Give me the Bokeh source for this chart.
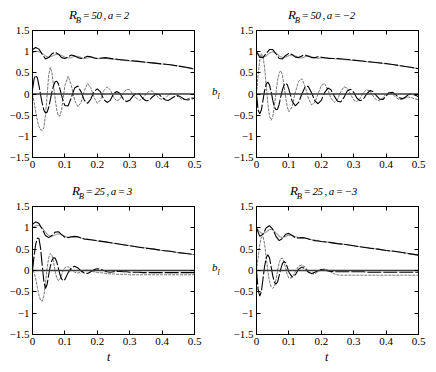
from bokeh.plotting import figure
from bokeh.layouts import column, row
from bokeh.models import Range1d, FixedTicker, LinearAxis, CustomJSTickFormatter, Div
from bokeh.embed import file_html
from bokeh.resources import INLINE

# ---------------- data ----------------
X_TICKS = [0, 0.1, 0.2, 0.3, 0.4, 0.5]
Y_TICKS = [-1.5, -1, -0.5, 0, 0.5, 1, 1.5]

R_B = ["50", "50", "25", "25"]
A_VAL = ["2", "\u22122", "3", "\u22123"]

ZERO_T = [0, 0.5]
ZERO_Y = [0, 0]

# time grid for the upper (b0-like) curves
T_UP = [0, 0.01, 0.02, 0.03, 0.04, 0.05, 0.06, 0.07, 0.08, 0.09, 0.1,
        0.11, 0.12, 0.13, 0.14, 0.15, 0.16, 0.17, 0.18, 0.19, 0.2,
        0.225, 0.25, 0.275, 0.3, 0.325, 0.35, 0.375, 0.4, 0.425, 0.45, 0.475, 0.5]

# time grid for the lower (oscillating) curves
T_LOW = [0, 0.005, 0.01, 0.015, 0.02, 0.025, 0.03, 0.035, 0.04, 0.045, 0.05,
         0.055, 0.06, 0.065, 0.07, 0.075, 0.08, 0.085, 0.09, 0.095, 0.1,
         0.11, 0.12, 0.13, 0.14, 0.15, 0.16, 0.17, 0.18, 0.19, 0.2,
         0.21, 0.22, 0.23, 0.24, 0.25, 0.26, 0.27, 0.28, 0.29, 0.3,
         0.31, 0.32, 0.33, 0.34, 0.35, 0.36, 0.37, 0.38, 0.39, 0.4,
         0.41, 0.42, 0.43, 0.44, 0.45, 0.46, 0.47, 0.48, 0.49, 0.5]

# panel 1: R_B = 50, a = 2
UB1 = [1.05, 1.10, 1.06, 0.94, 0.83, 0.86, 0.95, 0.99, 0.94, 0.86, 0.84, 0.88, 0.92, 0.90, 0.86, 0.84, 0.86, 0.89, 0.88, 0.85, 0.84,
       0.86, 0.83, 0.81, 0.79, 0.77, 0.75, 0.73, 0.71, 0.69, 0.66, 0.63, 0.59]
UG1 = [0.97, 1.01, 1.00, 0.96, 0.90, 0.87, 0.89, 0.93, 0.94, 0.91, 0.87, 0.85, 0.86, 0.89, 0.89, 0.86, 0.84, 0.85, 0.87, 0.86, 0.84,
       0.84, 0.82, 0.80, 0.78, 0.78, 0.75, 0.74, 0.71, 0.69, 0.66, 0.62, 0.59]
LB1 = [0.10, 0.36, 0.44, 0.38, 0.20, -0.02, -0.22, -0.38, -0.45, -0.43, -0.32, -0.14, 0.05, 0.20, 0.29, 0.30, 0.24, 0.11, -0.04, -0.18, -0.27,
       -0.28, -0.08, 0.14, 0.19, 0.05, -0.15, -0.22, -0.12, 0.06, 0.12,
       0.05, -0.13, -0.20, -0.15, 0.00, 0.06, 0.01, -0.12, -0.18, -0.15,
       -0.05, 0.02, 0.00, -0.10, -0.16, -0.15, -0.07, -0.01, -0.01, -0.08,
       -0.14, -0.15, -0.10, -0.05, -0.04, -0.08, -0.13, -0.14, -0.12, -0.10]
LG1 = [0.00, -0.20, -0.42, -0.62, -0.77, -0.85, -0.86, -0.80, -0.50, -0.05, 0.45, 0.63, 0.50, 0.20, -0.12, -0.38, -0.52, -0.52, -0.36, -0.08, 0.20,
       0.42, 0.20, -0.15, -0.30, -0.20, 0.08, 0.25, 0.15, -0.08, -0.22,
       -0.14, 0.08, 0.17, 0.10, -0.07, -0.17, -0.12, 0.02, 0.11, 0.10,
       0.00, -0.10, -0.15, -0.11, -0.01, 0.07, 0.07, -0.01, -0.10, -0.13,
       -0.10, -0.02, 0.02, 0.00, -0.07, -0.12, -0.13, -0.11, -0.09, -0.08]

# panel 2: R_B = 50, a = -2
UB2 = [1.00, 0.87, 0.86, 0.96, 1.05, 1.05, 0.95, 0.84, 0.83, 0.91, 0.96, 0.93, 0.87, 0.86, 0.90, 0.92, 0.89, 0.86, 0.86, 0.88, 0.87,
       0.84, 0.84, 0.82, 0.80, 0.78, 0.76, 0.74, 0.72, 0.69, 0.66, 0.63, 0.60]
UG2 = [1.00, 0.92, 0.87, 0.90, 0.97, 1.00, 0.97, 0.90, 0.86, 0.87, 0.91, 0.93, 0.90, 0.86, 0.85, 0.88, 0.90, 0.88, 0.85, 0.84, 0.86,
       0.85, 0.82, 0.81, 0.79, 0.78, 0.75, 0.74, 0.71, 0.69, 0.66, 0.63, 0.60]
LB2 = [0.00, -0.38, -0.47, -0.38, -0.15, 0.08, 0.24, 0.28, 0.22, 0.06, -0.14, -0.30, -0.37, -0.36, -0.24, -0.06, 0.10, 0.21, 0.25, 0.22, 0.11,
       -0.17, -0.28, -0.20, 0.00, 0.17, 0.18, 0.03, -0.16, -0.23, -0.15,
       0.03, 0.14, 0.10, -0.05, -0.17, -0.19, -0.08, 0.07, 0.11, 0.04,
       -0.10, -0.16, -0.12, 0.00, 0.08, 0.06, -0.04, -0.12, -0.13, -0.05,
       0.03, 0.04, -0.02, -0.09, -0.11, -0.07, -0.01, 0.00, -0.03, -0.06]
LG2 = [0.00, 0.45, 0.80, 0.95, 0.90, 0.62, 0.20, -0.22, -0.52, -0.62, -0.55, -0.30, 0.02, 0.32, 0.50, 0.55, 0.45, 0.20, -0.08, -0.30, -0.42,
       -0.30, 0.05, 0.30, 0.36, 0.18, -0.10, -0.26, -0.20, 0.00, 0.20,
       0.25, 0.10, -0.10, -0.20, -0.13, 0.05, 0.17, 0.14, 0.00, -0.14,
       -0.18, -0.10, 0.03, 0.10, 0.07, -0.05, -0.14, -0.16, -0.09, 0.00,
       0.04, 0.00, -0.08, -0.13, -0.13, -0.09, -0.07, -0.09, -0.12, -0.13]

# panel 3: R_B = 25, a = 3
UB3 = [1.08, 1.14, 1.10, 0.97, 0.82, 0.77, 0.82, 0.90, 0.91, 0.84, 0.78, 0.77, 0.79, 0.80, 0.79, 0.76, 0.74, 0.73, 0.72, 0.71, 0.70,
       0.67, 0.64, 0.61, 0.58, 0.55, 0.52, 0.50, 0.47, 0.45, 0.42, 0.40, 0.37]
UG3 = [1.00, 1.05, 1.06, 1.00, 0.90, 0.82, 0.80, 0.84, 0.86, 0.84, 0.80, 0.78, 0.78, 0.79, 0.78, 0.76, 0.74, 0.73, 0.72, 0.71, 0.69,
       0.67, 0.64, 0.61, 0.58, 0.55, 0.53, 0.50, 0.47, 0.45, 0.42, 0.40, 0.37]
LB3 = [0.00, 0.35, 0.62, 0.76, 0.75, 0.52, 0.12, -0.25, -0.42, -0.33, -0.10, 0.10, 0.24, 0.30, 0.29, 0.20, 0.05, -0.10, -0.20, -0.24, -0.21,
       -0.05, 0.06, 0.10, 0.06, -0.01, -0.06, -0.07, -0.03, 0.02, 0.04,
       0.03, 0.00, -0.03, -0.04, -0.03, -0.02, -0.02, -0.03, -0.03, -0.04,
       -0.04, -0.04, -0.04, -0.05, -0.05, -0.05, -0.05, -0.05, -0.05, -0.05,
       -0.05, -0.05, -0.05, -0.05, -0.05, -0.05, -0.05, -0.05, -0.05, -0.05]
LG3 = [0.00, -0.05, -0.20, -0.40, -0.58, -0.70, -0.72, -0.60, -0.30, 0.05, 0.30, 0.40, 0.36, 0.20, -0.02, -0.18, -0.24, -0.20, -0.10, 0.01, 0.07,
       0.09, 0.02, -0.04, -0.06, -0.04, 0.00, 0.01, -0.01, -0.03, -0.05,
       -0.05, -0.06, -0.07, -0.08, -0.08, -0.09, -0.09, -0.09, -0.09, -0.10,
       -0.10, -0.10, -0.10, -0.10, -0.10, -0.10, -0.10, -0.10, -0.10, -0.10,
       -0.10, -0.10, -0.10, -0.10, -0.10, -0.10, -0.10, -0.10, -0.10, -0.10]

# panel 4: R_B = 25, a = -3
UB4 = [1.00, 0.80, 0.85, 1.00, 1.05, 0.97, 0.80, 0.70, 0.75, 0.85, 0.87, 0.82, 0.77, 0.76, 0.77, 0.76, 0.74, 0.72, 0.70, 0.69, 0.68,
       0.66, 0.63, 0.61, 0.58, 0.55, 0.52, 0.50, 0.47, 0.45, 0.42, 0.39, 0.36]
UG4 = [1.00, 0.90, 0.86, 0.90, 0.96, 0.96, 0.88, 0.80, 0.77, 0.80, 0.83, 0.82, 0.79, 0.77, 0.76, 0.76, 0.74, 0.72, 0.71, 0.70, 0.68,
       0.66, 0.63, 0.61, 0.58, 0.55, 0.53, 0.50, 0.47, 0.45, 0.42, 0.39, 0.36]
LB4 = [0.00, -0.45, -0.60, -0.50, -0.20, 0.10, 0.30, 0.37, 0.30, 0.10, -0.12, -0.27, -0.32, -0.27, -0.12, 0.04, 0.16, 0.21, 0.18, 0.08, -0.04,
       -0.15, -0.10, 0.03, 0.08, 0.04, -0.04, -0.07, -0.04, 0.00, 0.02,
       0.01, -0.01, -0.02, -0.03, -0.03, -0.03, -0.03, -0.03, -0.03, -0.03,
       -0.03, -0.03, -0.03, -0.04, -0.04, -0.04, -0.04, -0.04, -0.04, -0.04,
       -0.04, -0.04, -0.04, -0.04, -0.04, -0.04, -0.04, -0.04, -0.04, -0.04]
LG4 = [0.00, 0.30, 0.60, 0.78, 0.80, 0.62, 0.30, -0.02, -0.25, -0.38, -0.42, -0.38, -0.22, 0.00, 0.18, 0.28, 0.29, 0.20, 0.05, -0.10, -0.18,
       -0.17, -0.02, 0.10, 0.13, 0.08, -0.02, -0.08, -0.08, -0.03, 0.02,
       0.04, 0.01, -0.04, -0.08, -0.10, -0.11, -0.11, -0.11, -0.11, -0.11,
       -0.11, -0.11, -0.11, -0.11, -0.11, -0.11, -0.11, -0.11, -0.11, -0.11,
       -0.11, -0.11, -0.11, -0.11, -0.11, -0.11, -0.11, -0.11, -0.11, -0.11]

PANELS = [
    (UB1, UG1, LB1, LG1),
    (UB2, UG2, LB2, LG2),
    (UB3, UG3, LB3, LG3),
    (UB4, UG4, LB4, LG4),
]

FONT_LIST = "'Liberation Serif', 'Times New Roman', Tinos, Times, 'Nimbus Roman', 'DejaVu Serif', serif"
MINUS_FMT = "return String(tick).replace('-', '\u2212');"
TXT = ("position:relative;white-space:nowrap;font-family:" + FONT_LIST + ";"
       "font-style:italic;color:black;margin:0;padding:0;")


def style_axis(ax, ticks, show_labels):
    ax.ticker = FixedTicker(ticks=ticks)
    ax.major_tick_in = 4
    ax.major_tick_out = 0
    ax.minor_tick_line_color = None
    ax.axis_line_color = "black"
    ax.axis_line_width = 1
    ax.major_tick_line_color = "black"
    if show_labels:
        ax.formatter = CustomJSTickFormatter(code=MINUS_FMT)
        ax.major_label_text_font = FONT_LIST
        ax.major_label_text_font_size = "11px"
        ax.major_label_text_color = "black"
        ax.major_label_standoff = 3
    else:
        ax.formatter = CustomJSTickFormatter(code="return '';")
        ax.major_label_text_font_size = "1px"
        ax.major_label_standoff = 0


def make_panel(i, width, height, bl, br, bt, bb):
    p = figure(width=width, height=height,
               x_range=Range1d(0, 0.5), y_range=Range1d(-1.5, 1.5),
               output_backend="svg", toolbar_location=None,
               x_axis_type=None, y_axis_type=None,
               min_border_left=bl, min_border_right=br,
               min_border_top=bt, min_border_bottom=bb)
    p.outline_line_color = "black"
    p.outline_line_width = 1
    p.background_fill_color = "white"
    p.border_fill_color = "white"

    xb = LinearAxis(); style_axis(xb, X_TICKS, True); p.add_layout(xb, "below")
    yl = LinearAxis(); style_axis(yl, Y_TICKS, True); p.add_layout(yl, "left")
    xa = LinearAxis(); style_axis(xa, X_TICKS, False); p.add_layout(xa, "above")
    yr = LinearAxis(); style_axis(yr, Y_TICKS, False); p.add_layout(yr, "right")

    ub, ug, lb, lg = PANELS[i]
    p.line(T_UP, ug, line_color="#9a9a9a", line_width=1.1)
    p.line(T_LOW, lg, line_color="#767676", line_width=1.0, line_dash="3 1")
    p.line(T_UP, ub, line_color="black", line_width=1.1, line_dash="14 2")
    p.line(T_LOW, lb, line_color="black", line_width=1.1, line_dash="14 2")
    p.line(ZERO_T, ZERO_Y, line_color="#3a3a3a", line_width=1.6)
    return p


def title_div(i, width, height, left, top):
    html = ('<div style="%sleft:%dpx;top:%dpx;font-size:11px;line-height:14px;letter-spacing:-0.6px;">'
            '<span style="font-size:13px">R</span>'
            '<span style="font-size:8.5px;position:relative;top:3.5px;margin-left:-0.5px">B</span>'
            ' = %s , a = %s</div>') % (TXT, left, top, R_B[i], A_VAL[i])
    return Div(text=html, width=width, height=height, margin=0)


def bl_div(width, height, top):
    html = ('<div style="%sleft:2px;top:%dpx;font-size:11px;line-height:13px;">'
            'b<span style="font-size:8px;position:relative;top:4px;margin-left:0px">l</span></div>') % (TXT, top)
    return Div(text=html, width=width, height=height, margin=0)


def t_div(width, height, left, top):
    html = '<div style="%sleft:%dpx;top:%dpx;font-size:12px;line-height:13px;">t</div>' % (TXT, left, top)
    return Div(text=html, width=width, height=height, margin=0)


p1 = make_panel(0, 210, 155, 32, 16, 7, 21)
p2 = make_panel(1, 210, 155, 30, 18, 7, 21)
p3 = make_panel(2, 210, 153, 32, 16, 7, 18)
p4 = make_panel(3, 210, 153, 30, 18, 7, 18)

layout = column(
    row(title_div(0, 210, 23, 69, 7), title_div(1, 226, 23, 78, 7)),
    row(p1, bl_div(16, 155, 60), p2),
    row(title_div(2, 210, 21, 72, 5), title_div(3, 226, 21, 80, 5)),
    row(p3, bl_div(16, 153, 60), p4),
    row(t_div(210, 20, 107, -3), t_div(226, 20, 115, -3)),
)

with open("out.html", "w") as f:
    f.write(file_html(layout, INLINE))
